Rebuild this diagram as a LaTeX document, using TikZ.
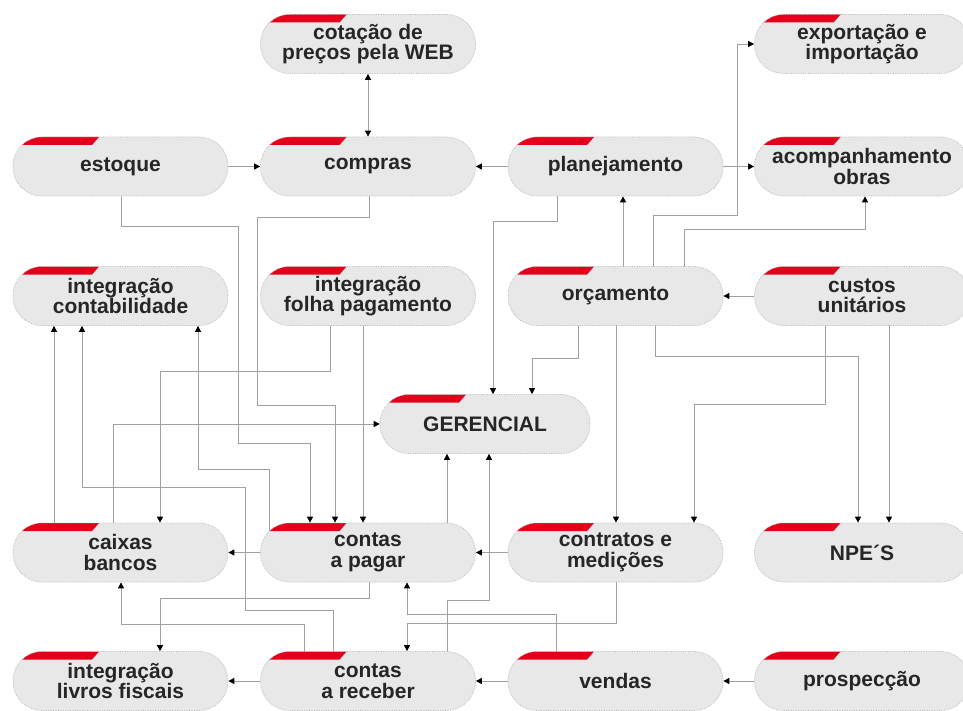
\documentclass[tikz,border=0pt]{standalone}
\usepackage{fontspec}
\setmainfont{Liberation Sans}
\usetikzlibrary{arrows.meta,backgrounds}
\definecolor{boxfill}{HTML}{E8E8E8}
\definecolor{boxline}{HTML}{B8B8B8}
\definecolor{tabred}{HTML}{E2001A}
\definecolor{linecol}{HTML}{A0A0A0}
\definecolor{textcol}{HTML}{262626}
\tikzset{
  box/.style={draw=boxline, densely dotted, line width=0.7pt, fill=boxfill,
    rounded corners=29pt, minimum width=215pt, minimum height=59pt,
    inner sep=0pt, align=center, text=textcol,
    font=\fontsize{21}{20.5}\selectfont\bfseries,
    path picture={\fill[tabred, sharp corners, solid]
      (path picture bounding box.north west) -- ++(86pt,0pt) -- ++(-7pt,-8pt)
      -- ++(-90pt,0pt) -- cycle;}},
  conn/.style={draw=linecol, line width=0.8pt, solid, sharp corners},
  arr/.style={-{Triangle[length=6pt,width=6pt,color=black]}},
  darr/.style={{Triangle[length=6pt,width=6pt,color=black]}-{Triangle[length=6pt,width=6pt,color=black]}}
}
\begin{document}
\begin{tikzpicture}[x=1pt,y=-1pt]
\useasboundingbox (0,0) rectangle (963,711);
% nodes
\node[box] (cot) at (368,44) {cotação de\\preços pela WEB};
\node[box] (exp) at (862,44) {exportação e\\importação};
\node[box] (est) at (120.5,166.5) {estoque};
\node[box] (com) at (368,166.5) {compras};
\node[box] (pla) at (615.5,166.5) {planejamento};
\node[box] (aco) at (862,166.5) {acompanhamento\\obras};
\node[box] (icon) at (120.5,296) {integração\\contabilidade};
\node[box] (ifol) at (368,296) {integração\\folha pagamento};
\node[box] (orc) at (615.5,296) {orçamento};
\node[box] (cus) at (862,296) {custos\\unitários};
\node[box, minimum width=210pt] (ger) at (485,424) {GERENCIAL};
\node[box] (cai) at (120.5,552.5) {caixas\\bancos};
\node[box] (cap) at (368,552.5) {contas\\a pagar};
\node[box] (con) at (615.5,552.5) {contratos e\\medições};
\node[box] (npe) at (862,552.5) {NPE´S};
\node[box] (ilf) at (120.5,681) {integração\\livros fiscais};
\node[box] (car) at (368,681) {contas\\a receber};
\node[box] (ven) at (615.5,681) {vendas};
\node[box] (pro) at (862,681) {prospecção};
% connectors
\begin{scope}[on background layer]
\draw[conn,darr] (cot.south) -- (com.north);
\draw[conn,arr] (est.east) -- (com.west);
\draw[conn,arr] (pla.west) -- (com.east);
\draw[conn,arr] (pla.east) -- (aco.west);
\draw[conn,arr] (cus.west) -- (orc.east);
\draw[conn,arr] (con.west) -- (cap.east);
\draw[conn,arr] (cap.west) -- (cai.east);
\draw[conn,arr] (car.west) -- (ilf.east);
\draw[conn,arr] (ven.west) -- (car.east);
\draw[conn,arr] (pro.west) -- (ven.east);
% estoque -> contas a pagar
\draw[conn,arr] (est.center -| 121,0) -- (121,226) -- (238,226) -- (238,443) -- (310,443) -- (cap.north -| 310,0);
% compras -> contas a pagar
\draw[conn,arr] (com.center -| 369,0) -- (369,217) -- (257,217) -- (257,405) -- (335,405) -- (cap.north -| 335,0);
% folha -> caixas
\draw[conn,arr] (ifol.center -| 330,0) -- (330,371) -- (160,371) -- (cai.north -| 160,0);
% folha -> contas a pagar
\draw[conn,arr] (ifol.center -| 363,0) -- (cap.north -| 363,0);
% caixas -> contabilidade
\draw[conn,arr] (cai.center -| 54,0) -- (icon.south -| 54,0);
% caixas -> gerencial
\draw[conn,arr] (cai.center -| 113,0) -- (113,424) -- (ger.west);
% contas a receber -> contabilidade
\draw[conn,arr] (car.center -| 333,0) -- (333,610) -- (245,610) -- (245,487) -- (82,487) -- (icon.south -| 82,0);
% contas a pagar -> contabilidade
\draw[conn,arr] (cap.center -| 269,0) -- (269,469) -- (198,469) -- (icon.south -| 198,0);
% contas a receber -> caixas
\draw[conn,arr] (car.center -| 304,0) -- (304,624) -- (121,624) -- (cai.south -| 121,0);
% contas a pagar -> livros fiscais
\draw[conn,arr] (cap.center -| 369,0) -- (369,598) -- (160,598) -- (ilf.north -| 160,0);
% vendas -> contas a pagar
\draw[conn,arr] (ven.center -| 556,0) -- (556,614) -- (407,614) -- (cap.south -| 407,0);
% contratos -> contas a receber
\draw[conn,arr] (con.center -| 616,0) -- (616,623) -- (407,623) -- (car.north -| 407,0);
% contas a pagar -> gerencial
\draw[conn,arr] (cap.center -| 447,0) -- (ger.south -| 447,0);
% contas a receber -> gerencial
\draw[conn,arr] (car.center -| 447,0) -- (447,600) -- (489,600) -- (ger.south -| 489,0);
% planejamento -> gerencial
\draw[conn,arr] (pla.center -| 557,0) -- (557,221) -- (493,221) -- (ger.north -| 493,0);
% orcamento -> gerencial
\draw[conn,arr] (orc.center -| 578,0) -- (578,358) -- (532,358) -- (ger.north -| 532,0);
% orcamento -> planejamento
\draw[conn,arr] (orc.center -| 623,0) -- (pla.south -| 623,0);
% orcamento -> exportacao
\draw[conn,arr] (orc.center -| 653,0) -- (653,215) -- (737,215) -- (737,44) -- (exp.west);
% orcamento -> acompanhamento
\draw[conn,arr] (orc.center -| 684,0) -- (684,229) -- (865,229) -- (aco.south -| 865,0);
% orcamento -> contratos
\draw[conn,arr] (orc.center -| 616,0) -- (con.north -| 616,0);
% orcamento -> NPE
\draw[conn,arr] (orc.center -| 655,0) -- (655,356) -- (858,356) -- (npe.north -| 858,0);
% custos -> contratos
\draw[conn,arr] (cus.center -| 825,0) -- (825,404) -- (694,404) -- (con.north -| 694,0);
% custos -> NPE
\draw[conn,arr] (cus.center -| 889,0) -- (npe.north -| 889,0);
\end{scope}
\end{tikzpicture}
\end{document}
